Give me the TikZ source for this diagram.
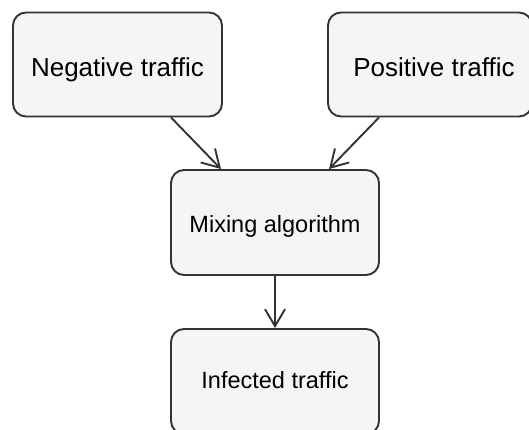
\documentclass[tikz,border=0pt]{standalone}
\usepackage{fontspec}
\setmainfont{Liberation Sans}
\usetikzlibrary{arrows.meta}
\definecolor{boxfill}{HTML}{F5F5F5}
\definecolor{boxline}{HTML}{333333}
\tikzset{
  box/.style={draw=boxline, fill=boxfill, line width=1.9pt, rounded corners=13pt,
    inner sep=0pt, align=center, text=black},
  bigtext/.style={font=\fontsize{26}{30}\selectfont, text height=26pt, text depth=1pt},
  arr/.style={draw=boxline, line width=1.9pt,
    -{Straight Barb[length=17pt,width=20pt,line width=1.9pt]}}
}
\begin{document}
\begin{tikzpicture}[x=1pt,y=-1pt]
\useasboundingbox (0,0) rectangle (529,430);
\clip (0,0) rectangle (529,430);
\node[box, bigtext, minimum width=209pt, minimum height=104pt] (neg) at (117.5,64.5) {Negative traffic};
\node[box, bigtext, minimum width=204pt, minimum height=104pt] (pos) at (430,64.5) {\hspace*{8pt}Positive traffic};
\node[box, minimum width=208pt, minimum height=105pt, font=\fontsize{23.5}{28}\selectfont, text height=22pt, text depth=3pt] (mix) at (275,222.5) {Mixing algorithm};
\node[box, minimum width=208pt, minimum height=105pt, font=\fontsize{23.5}{28}\selectfont, text height=16pt, text depth=3pt] (inf) at (275,381.5) {Infected traffic};
\draw[arr] ([xshift=53.5pt]neg.south) -- ([xshift=-54pt]mix.north);
\draw[arr] ([xshift=-51pt]pos.south) -- ([xshift=54pt]mix.north);
\draw[arr] (mix.south) -- (inf.north);
\end{tikzpicture}
\end{document}
